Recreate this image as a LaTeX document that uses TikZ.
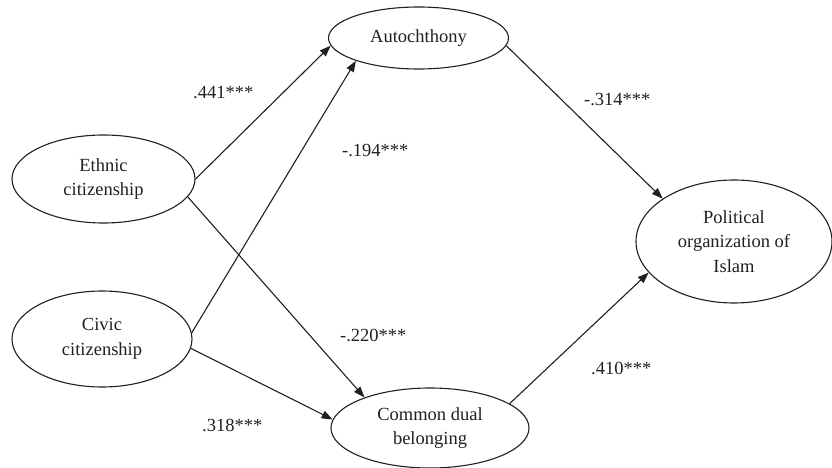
\documentclass[tikz,border=0pt]{standalone}
\usepackage{fontspec}
\setmainfont{Liberation Serif}
\usetikzlibrary{shapes.geometric,arrows.meta}
\definecolor{ink}{RGB}{35,31,32}
\begin{document}
\begin{tikzpicture}[x=1pt,y=-1pt,
  var/.style={draw=ink,text=ink,ellipse,line width=1.1pt,inner sep=0pt,align=center,
    font=\fontsize{18.5}{24.5}\selectfont},
  path/.style={draw=ink,line width=1.1pt,-{Triangle[length=11pt,width=8pt]}},
  coef/.style={anchor=base west,inner sep=0pt,text=ink,font=\fontsize{18.5}{22}\selectfont}]
\useasboundingbox (0,0) rectangle (832,468);
\node[var,minimum width=183pt,minimum height=88pt] (eth) at (103.5,179) {Ethnic\\citizenship};
\node[var,minimum width=180pt,minimum height=96pt] (civ) at (102,339) {Civic\\citizenship};
\node[var,minimum width=180pt,minimum height=62pt] (aut) at (418.5,38) {Autochthony};
\node[var,minimum width=198pt,minimum height=80pt] (cdb) at (430,428) {Common dual\\belonging};
\node[var,minimum width=196pt,minimum height=123pt] (poi) at (734,241.5) {Political\\organization of\\Islam};
\draw[path] (eth.east) -- (aut.185.7);
\draw[path] (civ.4.5) -- (aut.200.4);
\draw[path] (eth.-12) -- (cdb.155);
\draw[path] (civ.-6.6) -- (cdb.175);
\draw[path] (aut.-5.3) -- (poi.149.6);
\draw[path] (cdb.17.4) -- (poi.200.8);
\node[coef] (c1) at (193,99) {.441***};
\node[coef] (c2) at (342,157) {-.194***};
\node[coef] (c3) at (584,106) {-.314***};
\node[coef] (c4) at (340,341) {-.220***};
\node[coef] (c5) at (591,374) {.410***};
\node[coef] (c6) at (202,431) {.318***};
\end{tikzpicture}
\end{document}
